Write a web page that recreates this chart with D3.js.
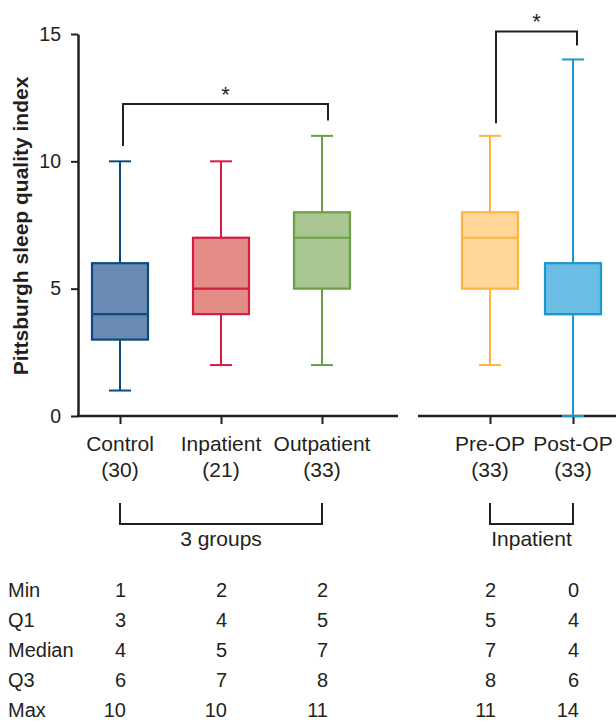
<!DOCTYPE html>
<html>
<head>
<meta charset="utf-8">
<script src="https://cdn.jsdelivr.net/npm/d3@7"></script>
<style>
  body { margin: 0; background: #fff; }
  svg { display: block; font-family: "Liberation Sans", Arial, sans-serif; }
</style>
</head>
<body>
<svg id="chart" width="616" height="723"></svg>
<script>
// data
var groupsLeft = ["Control", "Inpatient", "Outpatient"];
var groupsRight = ["Pre-OP", "Post-OP"];
var counts = { "Control": 30, "Inpatient": 21, "Outpatient": 33, "Pre-OP": 33, "Post-OP": 33 };
var minVals = [1, 2, 2, 2, 0];
var q1Vals = [3, 4, 5, 5, 4];
var medianVals = [4, 5, 7, 7, 4];
var q3Vals = [6, 7, 8, 8, 6];
var maxVals = [10, 10, 11, 11, 14];
var yTicks = [0, 5, 10, 15];
var rowLabels = ["Min", "Q1", "Median", "Q3", "Max"];

var fills = ["#6a8ab4", "#e48c86", "#a9c592", "#fdd698", "#6bbde4"];
var strokes = ["#0d4a7f", "#d41c45", "#6a9f45", "#fdb444", "#1a97d0"];
var ink = "#231f20";

var svg = d3.select("#chart");

var y = d3.scaleLinear().domain([0, 15]).range([416, 34]);
var xLeft = d3.scalePoint().domain(groupsLeft).range([120, 322]);
var xRight = d3.scalePoint().domain(groupsRight).range([490, 573]);

var allGroups = groupsLeft.concat(groupsRight);
function xOf(name) {
    return groupsLeft.indexOf(name) >= 0 ? xLeft(name) : xRight(name);
}

var boxes = allGroups.map(function(g, i) {
    return { name: g, min: minVals[i], q1: q1Vals[i], med: medianVals[i], q3: q3Vals[i], max: maxVals[i], fill: fills[i], stroke: strokes[i] };
});

// y axis
var yAxis = d3.axisLeft(y).tickValues(yTicks).tickSize(7).tickPadding(10).tickSizeOuter(0);
var gy = svg.append("g").attr("transform", "translate(78,0)").call(yAxis);
gy.select(".domain").attr("stroke", ink).attr("stroke-width", 2.5);
gy.selectAll(".tick line").attr("stroke", ink).attr("stroke-width", 2);
gy.selectAll(".tick text").attr("fill", ink).style("font-size", "19.5px");

// baselines
svg.append("line").attr("x1", 77).attr("x2", 398).attr("y1", y(0)).attr("y2", y(0))
    .attr("stroke", ink).attr("stroke-width", 2.5);
svg.append("line").attr("x1", 418).attr("x2", 616).attr("y1", y(0)).attr("y2", y(0))
    .attr("stroke", ink).attr("stroke-width", 2.5);

// category ticks
[ [xLeft, groupsLeft], [xRight, groupsRight] ].forEach(function(p) {
    var ax = d3.axisBottom(p[0]).tickSize(8).tickFormat("");
    var g = svg.append("g").attr("transform", "translate(0," + y(0) + ")").call(ax);
    g.select(".domain").remove();
    g.selectAll(".tick line").attr("stroke", ink).attr("stroke-width", 2);
});

// y label
svg.append("text")
    .attr("transform", "translate(28,226) rotate(-90)")
    .attr("text-anchor", "middle")
    .style("font-size", "21px").style("font-weight", "bold")
    .attr("fill", ink)
    .text("Pittsburgh sleep quality index");

// boxes
var bw = 56, cw = 22;
var bg = svg.selectAll("g.box").data(boxes).enter().append("g").attr("class", "box");
bg.append("line")
    .attr("x1", function(d) { return xOf(d.name); })
    .attr("x2", function(d) { return xOf(d.name); })
    .attr("y1", function(d) { return y(d.min); })
    .attr("y2", function(d) { return y(d.max); })
    .attr("stroke", function(d) { return d.stroke; }).attr("stroke-width", 2);
bg.selectAll("line.cap").data(function(d) { return [{ v: d.min, d: d }, { v: d.max, d: d }]; })
    .enter().append("line").attr("class", "cap")
    .attr("x1", function(c) { return xOf(c.d.name) - cw / 2; })
    .attr("x2", function(c) { return xOf(c.d.name) + cw / 2; })
    .attr("y1", function(c) { return y(c.v); })
    .attr("y2", function(c) { return y(c.v); })
    .attr("stroke", function(c) { return c.d.stroke; }).attr("stroke-width", 2);
bg.append("rect")
    .attr("x", function(d) { return xOf(d.name) - bw / 2; })
    .attr("width", bw)
    .attr("y", function(d) { return y(d.q3); })
    .attr("height", function(d) { return y(d.q1) - y(d.q3); })
    .attr("fill", function(d) { return d.fill; })
    .attr("stroke", function(d) { return d.stroke; }).attr("stroke-width", 2.2);
bg.append("line")
    .attr("x1", function(d) { return xOf(d.name) - bw / 2; })
    .attr("x2", function(d) { return xOf(d.name) + bw / 2; })
    .attr("y1", function(d) { return y(d.med); })
    .attr("y2", function(d) { return y(d.med); })
    .attr("stroke", function(d) { return d.stroke; }).attr("stroke-width", 2.2);

// category labels
var cl = svg.selectAll("g.cat").data(allGroups).enter().append("g").attr("class", "cat")
    .attr("fill", ink).attr("text-anchor", "middle").style("font-size", "21px");
cl.append("text").attr("x", xOf).attr("y", 451).text(function(d) { return d; });
cl.append("text").attr("x", xOf).attr("y", 477).text(function(d) { return "(" + counts[d] + ")"; });

// significance brackets
function bracket(xa, ya, xb, yb, yTop) {
    svg.append("path")
        .attr("d", "M" + xa + "," + y(ya) + "V" + y(yTop) + "H" + xb + "V" + y(yb))
        .attr("fill", "none").attr("stroke", ink).attr("stroke-width", 2);
    svg.append("text").attr("x", (xa + xb) / 2).attr("y", y(yTop) - 2)
        .attr("text-anchor", "middle").attr("fill", ink).style("font-size", "22px").text("*");
}
bracket(xLeft("Control") + 3, 10.6, xLeft("Outpatient") + 6, 11.6, 12.25);
bracket(xRight("Pre-OP") + 6, 11.5, xRight("Post-OP") + 4, 14.55, 15.1);

// group brackets below
function groupBracket(xa, xb, label) {
    svg.append("path")
        .attr("d", "M" + xa + ",503V524H" + xb + "V503")
        .attr("fill", "none").attr("stroke", ink).attr("stroke-width", 2);
    svg.append("text").attr("x", (xa + xb) / 2).attr("y", 546)
        .attr("text-anchor", "middle").attr("fill", ink).style("font-size", "21px").text(label);
}
groupBracket(xLeft("Control"), xLeft("Outpatient"), "3 groups");
groupBracket(xRight("Pre-OP"), xRight("Post-OP"), "Inpatient");

// summary table
var rows = [minVals, q1Vals, medianVals, q3Vals, maxVals];
var rowY = d3.scaleLinear().domain([0, 4]).range([596.5, 716.5]);
var tg = svg.append("g").attr("fill", ink).style("font-size", "20px");
rows.forEach(function(vals, r) {
    tg.append("text").attr("x", 8).attr("y", rowY(r)).text(rowLabels[r]);
    vals.forEach(function(v, i) {
        tg.append("text").attr("x", xOf(allGroups[i]) + 6).attr("y", rowY(r))
            .attr("text-anchor", "end").text(v);
    });
});
</script>
</body>
</html>
